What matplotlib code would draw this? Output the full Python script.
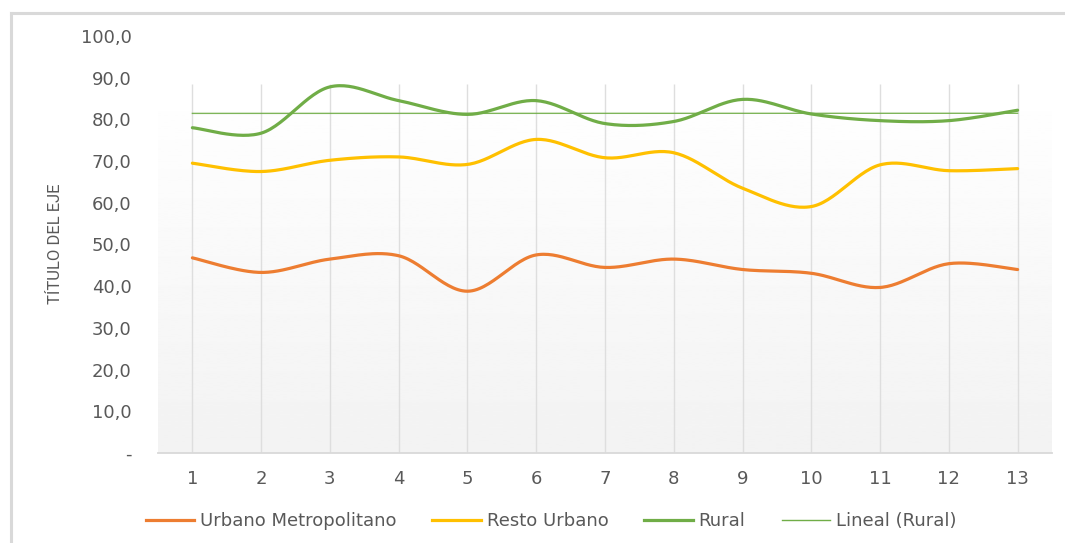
import numpy as np
import matplotlib
matplotlib.use("Agg")
import matplotlib.pyplot as plt
from matplotlib.lines import Line2D

# data
periodos = list(range(1, 14))
urbanoMetropolitano = [46.8, 43.3, 46.5, 47.3, 38.8, 47.5, 44.5, 46.5, 44.0, 43.1, 39.7, 45.4, 44.0]
restoUrbano = [69.5, 67.5, 70.2, 71.0, 69.2, 75.2, 70.8, 72.0, 63.5, 59.1, 69.1, 67.7, 68.2]
rural = [78.0, 76.7, 87.8, 84.5, 81.2, 84.5, 79.0, 79.5, 84.8, 81.3, 79.7, 79.7, 82.2]
yTicks = [0, 10, 20, 30, 40, 50, 60, 70, 80, 90, 100]

colOrange = "#ed7d31"
colYellow = "#ffc000"
colGreen = "#70ad47"
colText = "#595959"
colGrid = "#d9d9d9"


def smoothCurve(x, y, nSeg=30):
    # excel-like smoothed line: cubic bezier through the points
    x = np.asarray(x, float)
    y = np.asarray(y, float)
    px = np.concatenate([[x[0]], x, [x[-1]]])
    py = np.concatenate([[y[0]], y, [y[-1]]])
    t = np.linspace(0, 1, nSeg)
    xs, ys = [], []
    for i in range(len(x) - 1):
        p0 = np.array([px[i + 1], py[i + 1]])
        p3 = np.array([px[i + 2], py[i + 2]])
        c1 = p0 + (p3 - np.array([px[i], py[i]])) / 6.0
        c2 = p3 - (np.array([px[i + 3], py[i + 3]]) - p0) / 6.0
        b = (
            np.outer((1 - t) ** 3, p0)
            + np.outer(3 * (1 - t) ** 2 * t, c1)
            + np.outer(3 * (1 - t) * t**2, c2)
            + np.outer(t**3, p3)
        )
        xs.append(b[:, 0])
        ys.append(b[:, 1])
    return np.concatenate(xs), np.concatenate(ys)


fig = plt.figure(figsize=(10.65, 5.43), dpi=100)
fig.patch.set_facecolor("white")

# chart area border (top and left visible)
fig.add_artist(Line2D([11 / 1065, 1], [1 - 13 / 543, 1 - 13 / 543], color=colGrid, lw=2.2, transform=fig.transFigure))
fig.add_artist(Line2D([11 / 1065, 11 / 1065], [0, 1 - 13 / 543], color=colGrid, lw=2.2, transform=fig.transFigure))

ax = fig.add_axes([158 / 1065, 1 - 453 / 543, 894 / 1065, 417 / 543])
ax.set_facecolor("none")
ax.set_xlim(0.5, 13.5)
ax.set_ylim(0, 100)

# plot area gradient fill
topFill = 88.5
grad = np.linspace(0.95, 1.0, 256).reshape(-1, 1)
ax.imshow(grad, cmap="gray", vmin=0, vmax=1, extent=(0.5, 13.5, 0, topFill), aspect="auto", origin="lower", zorder=0)
ax.vlines(periodos, 0, topFill, color="#dedede", lw=1.0, zorder=1)

for s in ["top", "right", "left"]:
    ax.spines[s].set_visible(False)
ax.spines["bottom"].set_color(colGrid)
ax.spines["bottom"].set_linewidth(1.3)

x1, y1 = smoothCurve(periodos, urbanoMetropolitano)
x2, y2 = smoothCurve(periodos, restoUrbano)
x3, y3 = smoothCurve(periodos, rural)
ax.plot(x1, y1, color=colOrange, lw=2.3, zorder=3, solid_capstyle="round")
ax.plot(x2, y2, color=colYellow, lw=2.3, zorder=3, solid_capstyle="round")
ax.plot(x3, y3, color=colGreen, lw=2.3, zorder=3, solid_capstyle="round")

# linear trend of rural
coef = np.polyfit(periodos, rural, 1)
ax.plot(periodos, np.polyval(coef, periodos), color=colGreen, lw=1.0, zorder=2, alpha=0.9)

ax.set_xticks(periodos)
ax.set_xticklabels([str(p) for p in periodos])
ax.set_yticks(yTicks)
ax.set_yticklabels(["-" if v == 0 else ("%.1f" % v).replace(".", ",") for v in yTicks])
ax.tick_params(axis="both", length=0, labelsize=13, colors=colText)
ax.tick_params(axis="y", pad=19)
ax.tick_params(axis="x", pad=12)

fig.text(56 / 1065, 1 - 244 / 543, "TÍTULO DEL EJE", rotation=90, ha="center", va="center",
         fontsize=12, color=colText, family=["Roboto", "DejaVu Sans"])

handles = [
    Line2D([], [], color=colOrange, lw=2.3),
    Line2D([], [], color=colYellow, lw=2.3),
    Line2D([], [], color=colGreen, lw=2.3),
    Line2D([], [], color=colGreen, lw=1.0),
]
labels = ["Urbano Metropolitano", "Resto Urbano", "Rural", "Lineal (Rural)"]
leg = fig.legend(handles, labels, loc="center", bbox_to_anchor=(551 / 1065, 1 - 521 / 543), ncol=4,
                 frameon=False, fontsize=13, handlelength=2.7, handletextpad=0.3, columnspacing=2.0)
for t in leg.get_texts():
    t.set_color(colText)

plt.savefig("out.png", dpi=100)
plt.close()
